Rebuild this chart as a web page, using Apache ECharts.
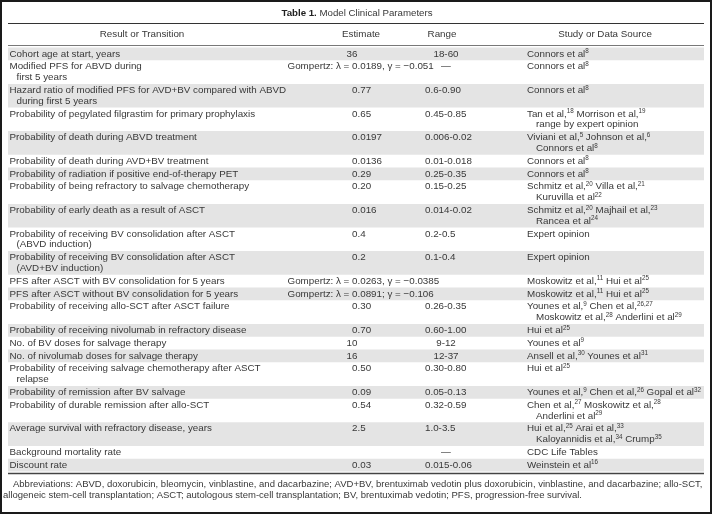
<!DOCTYPE html>
<html><head><meta charset="utf-8">
<script src="https://cdn.jsdelivr.net/npm/echarts@6/dist/echarts.min.js"></script>
<style>html,body{margin:0;padding:0;background:#fff}#c{width:712px;height:514px}</style>
</head><body><div id="c"></div>
<script>
// ---------- data ----------
const titleBold = "Table 1.";
const titleRest = " Model Clinical Parameters";
const headers = ["Result or Transition", "Estimate", "Range", "Study or Data Source"];
const parameters = [
  ["Cohort age at start, years"],
  ["Modified PFS for ABVD during", "first 5 years"],
  ["Hazard ratio of modified PFS for AVD+BV compared with ABVD", "during first 5 years"],
  ["Probability of pegylated filgrastim for primary prophylaxis"],
  ["Probability of death during ABVD treatment"],
  ["Probability of death during AVD+BV treatment"],
  ["Probability of radiation if positive end-of-therapy PET"],
  ["Probability of being refractory to salvage chemotherapy"],
  ["Probability of early death as a result of ASCT"],
  ["Probability of receiving BV consolidation after ASCT", "(ABVD induction)"],
  ["Probability of receiving BV consolidation after ASCT", "(AVD+BV induction)"],
  ["PFS after ASCT with BV consolidation for 5 years"],
  ["PFS after ASCT without BV consolidation for 5 years"],
  ["Probability of receiving allo-SCT after ASCT failure"],
  ["Probability of receiving nivolumab in refractory disease"],
  ["No. of BV doses for salvage therapy"],
  ["No. of nivolumab doses for salvage therapy"],
  ["Probability of receiving salvage chemotherapy after ASCT", "relapse"],
  ["Probability of remission after BV salvage"],
  ["Probability of durable remission after allo-SCT"],
  ["Average survival with refractory disease, years"],
  ["Background mortality rate"],
  ["Discount rate"]
];
const estimates = ["36", "Gompertz: λ = 0.0189, γ = −0.051", "0.77", "0.65", "0.0197", "0.0136", "0.29", "0.20", "0.016", "0.4", "0.2",
  "Gompertz: λ = 0.0263, γ = −0.0385", "Gompertz: λ = 0.0891; γ = −0.106", "0.30", "0.70", "10", "16", "0.50", "0.09", "0.54", "2.5", "", "0.03"];
const ranges = ["18-60", "—", "0.6-0.90", "0.45-0.85", "0.006-0.02", "0.01-0.018", "0.25-0.35", "0.15-0.25", "0.014-0.02", "0.2-0.5", "0.1-0.4",
  "", "", "0.26-0.35", "0.60-1.00", "9-12", "12-37", "0.30-0.80", "0.05-0.13", "0.32-0.59", "1.0-3.5", "—", "0.015-0.06"];
const sources = [
  ["Connors et al[8]"],
  ["Connors et al[8]"],
  ["Connors et al[8]"],
  ["Tan et al,[18] Morrison et al,[19]", "range by expert opinion"],
  ["Viviani et al,[5] Johnson et al,[6]", "Connors et al[8]"],
  ["Connors et al[8]"],
  ["Connors et al[8]"],
  ["Schmitz et al,[20] Villa et al,[21]", "Kuruvilla et al[22]"],
  ["Schmitz et al,[20] Majhail et al,[23]", "Rancea et al[24]"],
  ["Expert opinion"],
  ["Expert opinion"],
  ["Moskowitz et al,[11] Hui et al[25]"],
  ["Moskowitz et al,[11] Hui et al[25]"],
  ["Younes et al,[9] Chen et al,[26,27]", "Moskowitz et al,[28] Anderlini et al[29]"],
  ["Hui et al[25]"],
  ["Younes et al[9]"],
  ["Ansell et al,[30] Younes et al[31]"],
  ["Hui et al[25]"],
  ["Younes et al,[9] Chen et al,[26] Gopal et al[32]"],
  ["Chen et al,[27] Moskowitz et al,[28]", "Anderlini et al[29]"],
  ["Hui et al,[25] Arai et al,[33]", "Kaloyannidis et al,[34] Crump[35]"],
  ["CDC Life Tables"],
  ["Weinstein et al[16]"]
];
const footnote = [
  "Abbreviations: ABVD, doxorubicin, bleomycin, vinblastine, and dacarbazine; AVD+BV, brentuximab vedotin plus doxorubicin, vinblastine, and dacarbazine; allo-SCT,",
  "allogeneic stem-cell transplantation; ASCT; autologous stem-cell transplantation; BV, brentuximab vedotin; PFS, progression-free survival."
];

// ---------- layout / style ----------
const FAMILY = '"Liberation Sans", Arial, sans-serif';
const FS = 9.8;
const TEXT = '#383838';
const SHADE = '#e4e4e4';
const LH = 10.8, PAD = 2.0;
const BODY_TOP = 47.5;
const LEFT = 8, RIGHT = 704;
const COL1 = 9.5, IND1 = 7;
const DEC_X = 357.5;
const RANGE_L = 425, RANGE_C = 446;
const SRC_X = 527, IND_SRC = 9;
const HEAD_X = [142, 361, 442, 605];

function rich(t) { return t.replace(/\[(.*?)\]/g, '{s|$1}'); }
const RICH = {
  s: { fontSize: 6.3, fontFamily: FAMILY, fill: TEXT, verticalAlign: 'top', lineHeight: 6.5 },
  b: { fontSize: 9.7, fontFamily: FAMILY, fontWeight: 'bold', fill: '#222' }
};
function txt(t, x, y, align, size) {
  return {
    type: 'text', silent: true,
    style: {
      text: rich(t), x: x, y: y, textAlign: align || 'left', textVerticalAlign: 'middle',
      fontSize: size || FS, fontFamily: FAMILY, fill: TEXT, lineHeight: LH, rich: RICH
    }
  };
}

const lineCounts = parameters.map((p, i) => Math.max(p.length, sources[i].length, 1));
let acc = 0;
const rowData = lineCounts.map((n, i) => { const s = acc; acc += n * LH + PAD; return [i, s, acc]; });
const TOTAL = acc;

const chart = echarts.init(document.getElementById('c'), null, { renderer: 'canvas' });

function renderRow(params, api) {
  const i = api.value(0);
  const y0 = api.coord([0, api.value(1)])[1];
  const y1 = api.coord([0, api.value(2)])[1];
  const children = [];
  if (i % 2 === 0) {
    children.push({ type: 'rect', silent: true, shape: { x: LEFT, y: y0, width: RIGHT - LEFT, height: y1 - y0 }, style: { fill: SHADE } });
  }
  const fy = y0 + PAD / 2 + LH / 2;
  parameters[i].forEach((t, k) => children.push(txt(t, COL1 + (k ? IND1 : 0), fy + k * LH, 'left')));
  const e = estimates[i];
  if (e) {
    const d = e.indexOf('.');
    if (d < 0) children.push(txt(e, DEC_X, fy, 'right'));
    else {
      children.push(txt(e.slice(0, d), DEC_X, fy, 'right'));
      children.push(txt(e.slice(d), DEC_X, fy, 'left'));
    }
  }
  const r = ranges[i];
  if (r) {
    if (r.indexOf('.') >= 0) children.push(txt(r, RANGE_L, fy, 'left'));
    else children.push(txt(r, RANGE_C, fy, 'center'));
  }
  sources[i].forEach((t, k) => children.push(txt(t, SRC_X + (k ? IND_SRC : 0), fy + k * LH, 'left')));
  return { type: 'group', children: children };
}

const graphics = [
  { type: 'rect', silent: true, shape: { x: 1, y: 1, width: 710, height: 512 }, style: { fill: null, stroke: '#1a1a1a', lineWidth: 2 } },
  { type: 'text', silent: true, style: { text: '{b|' + titleBold + '}' + titleRest, x: 357, y: 13.5, textAlign: 'center', textVerticalAlign: 'middle', fontSize: 9.7, fontFamily: FAMILY, fill: TEXT, rich: RICH } },
  { type: 'line', silent: true, shape: { x1: LEFT, y1: 23.5, x2: RIGHT, y2: 23.5 }, style: { stroke: '#333', lineWidth: 1 } },
  { type: 'line', silent: true, shape: { x1: LEFT, y1: 45.5, x2: RIGHT, y2: 45.5 }, style: { stroke: '#555', lineWidth: 0.8 } },
  { type: 'line', silent: true, shape: { x1: LEFT, y1: BODY_TOP + TOTAL + 2, x2: RIGHT, y2: BODY_TOP + TOTAL + 2 }, style: { stroke: '#444', lineWidth: 1.5 } }
];
headers.forEach((h, k) => graphics.push(txt(h, HEAD_X[k], 34.5, 'center')));
graphics.push(txt(footnote[0], 13, BODY_TOP + TOTAL + 13, 'left', 9.5));
graphics.push(txt(footnote[1], 3, BODY_TOP + TOTAL + 24, 'left', 9.5));

chart.setOption({
  animation: false,
  grid: { left: LEFT, right: 712 - RIGHT, top: BODY_TOP, height: TOTAL },
  xAxis: { type: 'value', min: 0, max: 1, show: false },
  yAxis: { type: 'value', min: 0, max: TOTAL, inverse: true, show: false },
  series: [{ type: 'custom', data: rowData, renderItem: renderRow, clip: false }],
  graphic: graphics
});
</script>
</body></html>
